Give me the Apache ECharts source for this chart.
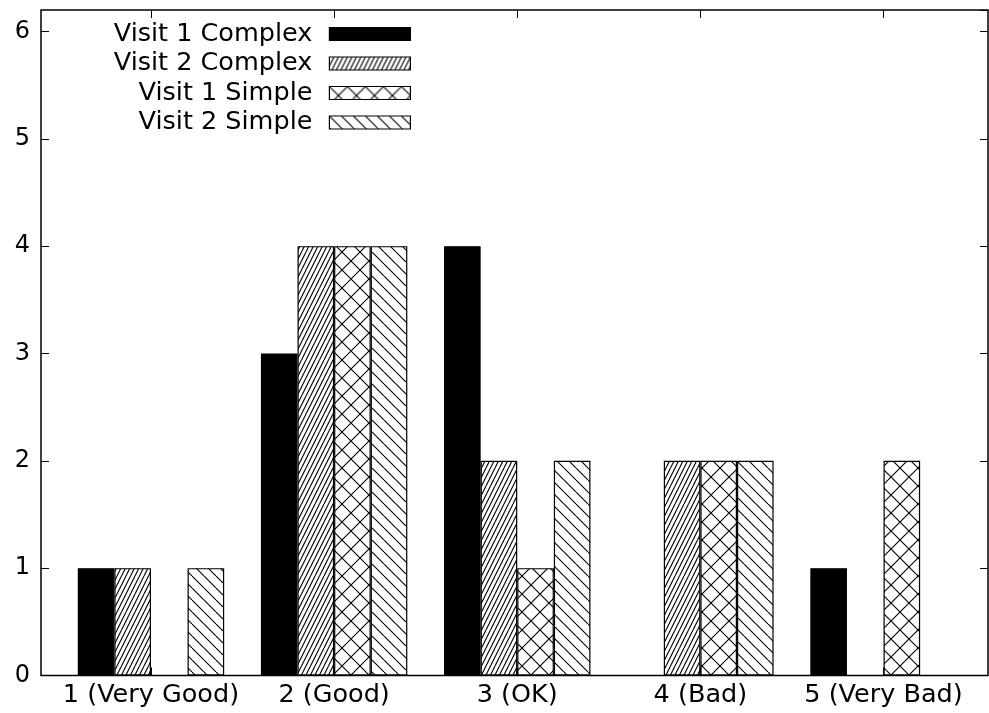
<!DOCTYPE html>
<html><head><meta charset="utf-8">
<script src="https://cdn.jsdelivr.net/npm/echarts@6/dist/echarts.min.js"></script>
<style>html,body{margin:0;padding:0;background:#fff}#c{width:989px;height:713px}</style>
</head><body><div id="c"></div>
<script>
const categories = ['1 (Very Good)', '2 (Good)', '3 (OK)', '4 (Bad)', '5 (Very Bad)'];
const seriesNames = ['Visit 1 Complex', 'Visit 2 Complex', 'Visit 1 Simple', 'Visit 2 Simple'];
const visit1Complex = [1, 3, 4, 0, 1];
const visit2Complex = [1, 4, 2, 2, 0];
const visit1Simple = [0, 4, 1, 2, 2];
const visit2Simple = [1, 4, 2, 2, 0];
const yTicks = [0, 1, 2, 3, 4, 5, 6];

function makePattern(w, h, draw) {
  const c = document.createElement('canvas');
  c.width = w; c.height = h;
  const ctx = c.getContext('2d');
  ctx.fillStyle = '#fff'; ctx.fillRect(0, 0, w, h);
  ctx.strokeStyle = '#000'; ctx.lineWidth = 1.1;
  draw(ctx);
  return { image: c, repeat: 'repeat' };
}
// "/" steep hatching
const patSlash = makePattern(9, 18, ctx => {
  ctx.beginPath();
  for (let x0 = -18; x0 <= 18; x0 += 4.5) { ctx.moveTo(x0, 18); ctx.lineTo(x0 + 9, 0); }
  ctx.stroke();
});
// cross hatching
const patCross = makePattern(18, 18, ctx => {
  ctx.beginPath();
  ctx.moveTo(0, 0); ctx.lineTo(18, 18);
  ctx.moveTo(0, 18); ctx.lineTo(18, 0);
  ctx.stroke();
});
// "\" hatching
const patBack = makePattern(12, 12, ctx => {
  ctx.beginPath();
  for (let x0 = -12; x0 <= 12; x0 += 12) { ctx.moveTo(x0, 0); ctx.lineTo(x0 + 12, 12); }
  ctx.stroke();
});

const fills = ['#000', patSlash, patCross, patBack];
const dataSets = [visit1Complex, visit2Complex, visit1Simple, visit2Simple];
const FONT = 'DejaVu Sans';

const chart = echarts.init(document.getElementById('c'), null, { renderer: 'canvas' });
const yMax = 6.2;
chart.setOption({
  animation: false,
  backgroundColor: '#fff',
  textStyle: { fontFamily: FONT, color: '#000' },
  grid: [
    { left: 41, right: 1, top: 10, bottom: 37.5, show: true, borderColor: '#000', borderWidth: 1.5, backgroundColor: 'transparent' },
    { left: 59.4, right: 13.9, top: 10, bottom: 37.5 }
  ],
  legend: {
    orient: 'vertical', align: 'right', right: 578, top: 21, padding: 0,
    itemWidth: 81, itemHeight: 13, itemGap: 3.5, icon: 'rect',
    selectedMode: false,
    textStyle: { fontFamily: FONT, fontSize: 25.5, color: '#000', padding: [0, 12, 0, 0] },
    itemStyle: { borderColor: '#000', borderWidth: 1.2 },
    data: seriesNames
  },
  xAxis: [
    { type: 'value', gridIndex: 0, show: false, min: 0, max: 1 },
    { type: 'category', gridIndex: 1, data: categories, position: 'bottom',
      axisLine: { show: false },
      axisTick: { show: true, inside: true, alignWithLabel: true, length: 8, lineStyle: { color: '#000' } },
      axisLabel: { fontFamily: FONT, fontSize: 25.5, color: '#000', margin: 7, interval: 0, hideOverlap: false } },
    { type: 'category', gridIndex: 1, data: categories, position: 'top',
      axisLine: { show: false },
      axisTick: { show: true, inside: true, alignWithLabel: true, length: 8, lineStyle: { color: '#000' } },
      axisLabel: { show: false } }
  ],
  yAxis: [
    { type: 'value', gridIndex: 0, min: 0, max: yMax, interval: 1, position: 'left',
      axisLine: { show: false }, splitLine: { show: false },
      axisTick: { show: true, inside: true, length: 8, lineStyle: { color: '#000' } },
      axisLabel: { fontFamily: FONT, fontSize: 24, color: '#000', margin: 11, showMaxLabel: false,
        formatter: v => yTicks.includes(v) ? String(v) : '' } },
    { type: 'value', gridIndex: 0, min: 0, max: yMax, interval: 1, position: 'right',
      axisLine: { show: false }, splitLine: { show: false },
      axisTick: { show: true, inside: true, length: 8, lineStyle: { color: '#000' } },
      axisLabel: { show: false } },
    { type: 'value', gridIndex: 1, min: 0, max: yMax, show: false, splitLine: { show: false } }
  ],
  series: seriesNames.map((name, i) => ({
    name, type: 'bar', xAxisIndex: 1, yAxisIndex: 2,
    data: dataSets[i], barWidth: 36.6, barGap: '0%', silent: true,
    itemStyle: { color: fills[i], borderColor: '#000', borderWidth: 1.2 },
    emphasis: { disabled: true }
  }))
});
</script></body></html>
